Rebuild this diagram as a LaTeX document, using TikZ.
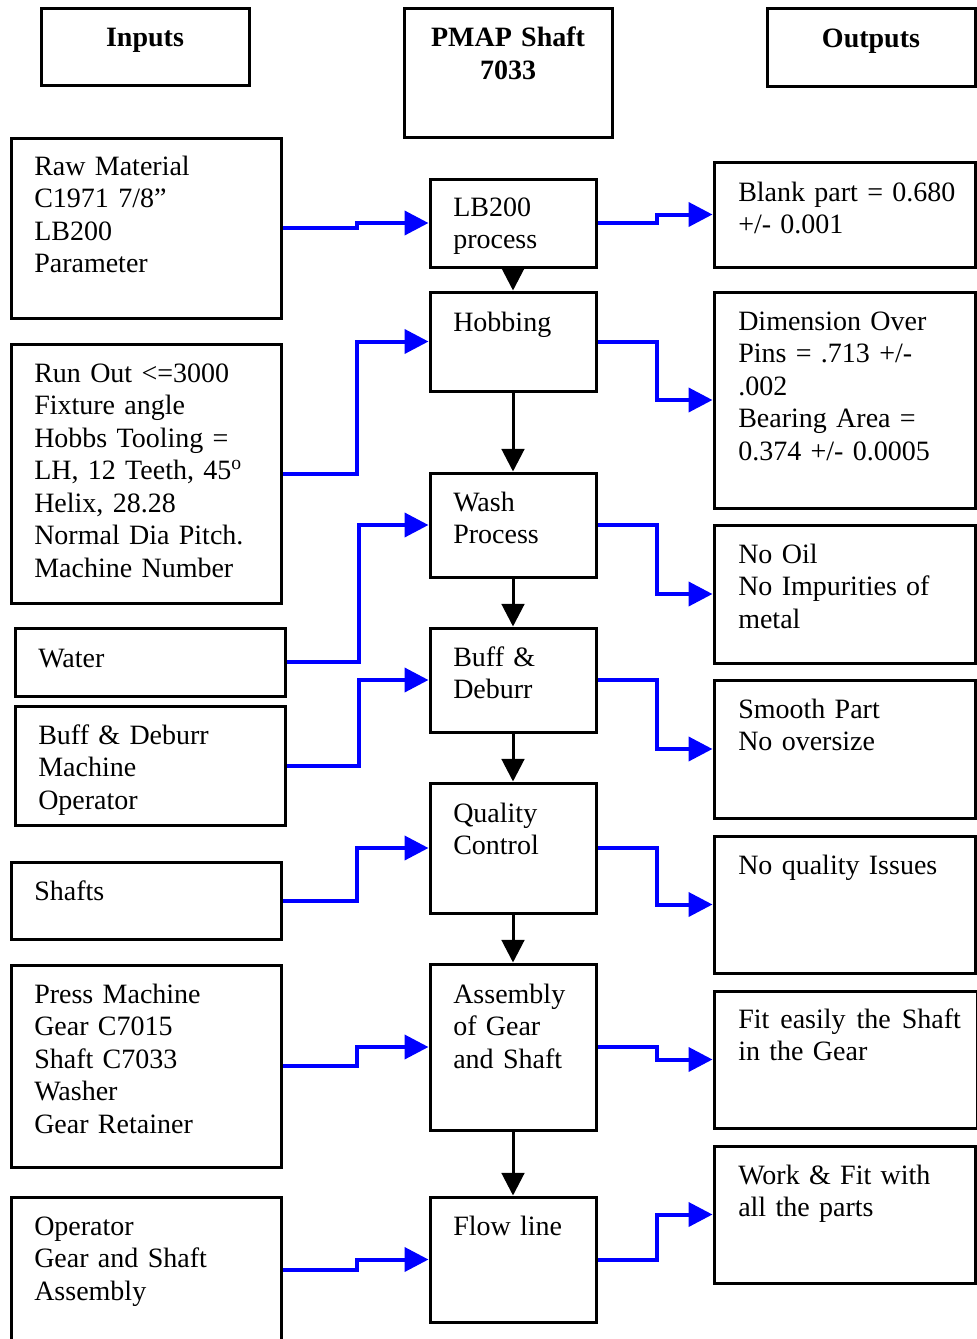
\documentclass[tikz,border=0pt]{standalone}
\usepackage{fontspec}
\setmainfont{Liberation Serif}
\usetikzlibrary{arrows.meta,fit}
\begin{document}
\begin{tikzpicture}[x=0.75pt,y=-0.75pt,
 box/.style={draw, line width=2.25pt, inner sep=0pt},
 txt/.style={anchor=base west, inner sep=0pt, align=left, text width=330pt, font=\fontsize{21}{24.4}\selectfont},
 hdr/.style={anchor=base, inner sep=0pt, align=center, text width=150pt, font=\fontsize{21}{24.75}\selectfont\bfseries},
 bl/.style={draw=blue, line width=3pt, -{Triangle[length=18pt,width=18pt]}},
 blk/.style={draw=black, line width=2.25pt, -{Triangle[length=17pt,width=17pt]}}]
\useasboundingbox (0,0) rectangle (977,1339);

% headers
\node[box, fit={(41,8) (249,85)}] (hin) {};
\node[hdr] (hint) at (145,46) {Inputs};
\node[box, fit={(404,8) (612,137)}] (hmid) {};
\node[hdr] (hmidt) at (508,46) {PMAP Shaft\\7033};
\node[box, fit={(767,8) (975,86)}] (hout) {};
\node[hdr] (houtt) at (871,47) {Outputs};

% left boxes
\node[box, fit={(11,138) (281,318)}] (l1) {};
\node[txt] (l1t) at (34,175) {Raw Material\\C1971 7/8”\\LB200\\Parameter};
\node[box, fit={(11,344) (281,603)}] (l2) {};
\node[txt] (l2t) at (34,382) {Run Out <=3000\\Fixture angle\\Hobbs Tooling =\\LH, 12 Teeth, 45\textsuperscript{o}\\Helix, 28.28\\Normal Dia Pitch.\\Machine Number};
\node[box, fit={(15,628) (285,696)}] (l3) {};
\node[txt] (l3t) at (38,667) {Water};
\node[box, fit={(15,706) (285,825)}] (l4) {};
\node[txt] (l4t) at (38,744) {Buff \& Deburr\\Machine\\Operator};
\node[box, fit={(11,862) (281,939)}] (l5) {};
\node[txt] (l5t) at (34,900) {Shafts};
\node[box, fit={(11,965) (281,1167)}] (l6) {};
\node[txt] (l6t) at (34,1003) {Press Machine\\Gear C7015\\Shaft C7033\\Washer\\Gear Retainer};
\node[box, fit={(11,1197) (281,1343)}] (l7) {};
\node[txt] (l7t) at (34,1235) {Operator\\Gear and Shaft\\Assembly};

% middle boxes
\node[box, fit={(430,179) (596,267)}] (m1) {};
\node[txt] (m1t) at (453,216) {LB200\\process};
\node[box, fit={(430,292) (596,391)}] (m2) {};
\node[txt] (m2t) at (453,331) {Hobbing};
\node[box, fit={(430,473) (596,577)}] (m3) {};
\node[txt] (m3t) at (453,511) {Wash\\Process};
\node[box, fit={(430,628) (596,732)}] (m4) {};
\node[txt] (m4t) at (453,666) {Buff \&\\Deburr};
\node[box, fit={(430,783) (596,913)}] (m5) {};
\node[txt] (m5t) at (453,822) {Quality\\Control};
\node[box, fit={(430,964) (596,1130)}] (m6) {};
\node[txt] (m6t) at (453,1003) {Assembly\\of Gear\\and Shaft};
\node[box, fit={(430,1197) (596,1322)}] (m7) {};
\node[txt] (m7t) at (453,1235) {Flow line};

% right boxes
\node[box, fit={(714,162) (975,267)}] (r1) {};
\node[txt] (r1t) at (738,201) {Blank part = 0.680\\+/- 0.001};
\node[box, fit={(714,292) (975,508)}] (r2) {};
\node[txt] (r2t) at (738,330) {Dimension Over\\Pins = .713 +/-\\.002\\Bearing Area =\\0.374 +/- 0.0005};
\node[box, fit={(714,525) (975,663)}] (r3) {};
\node[txt] (r3t) at (738,563) {No Oil\\No Impurities of\\metal};
\node[box, fit={(714,680) (975,818)}] (r4) {};
\node[txt] (r4t) at (738,718) {Smooth Part\\No oversize};
\node[box, fit={(714,836) (975,973)}] (r5) {};
\node[txt] (r5t) at (738,874) {No quality Issues};
\node[box, fit={(714,991) (977,1128)}] (r6) {};
\node[txt] (r6t) at (738,1028) {\hbox to 167pt{Fit\hfil easily\hfil the\hfil Shaft}\\in the Gear};
\node[box, fit={(714,1146) (975,1283)}] (r7) {};
\node[txt] (r7t) at (738,1184) {Work \& Fit with\\all the parts};

% vertical flow
\draw[blk] (m1.south) -- (m2.north);
\draw[blk] (m2.south) -- (m3.north);
\draw[blk] (m3.south) -- (m4.north);
\draw[blk] (m4.south) -- (m5.north);
\draw[blk] (m5.south) -- (m6.north);
\draw[blk] (m6.south) -- (m7.north);

% inputs to process
\draw[bl] (l1.east) -- ++(74,0) |- (m1.west);
\draw[bl] (l2.east) -- ++(74,0) |- (m2.west);
\draw[bl] (l3.east) -- ++(72,0) |- (m3.west);
\draw[bl] (l4.east) -- ++(72,0) |- (m4.west);
\draw[bl] (l5.east) -- ++(74,0) |- (m5.west);
\draw[bl] (l6.east) -- ++(74,0) |- (m6.west);
\draw[bl] (l7.east) -- ++(74,0) |- (m7.west);

% process to outputs
\draw[bl] (m1.east) -- ++(59,0) |- (r1.west);
\draw[bl] (m2.east) -- ++(59,0) |- (r2.west);
\draw[bl] (m3.east) -- ++(59,0) |- (r3.west);
\draw[bl] (m4.east) -- ++(59,0) |- (r4.west);
\draw[bl] (m5.east) -- ++(59,0) |- (r5.west);
\draw[bl] (m6.east) -- ++(59,0) |- (r6.west);
\draw[bl] (m7.east) -- ++(59,0) |- (r7.west);
\end{tikzpicture}
\end{document}
